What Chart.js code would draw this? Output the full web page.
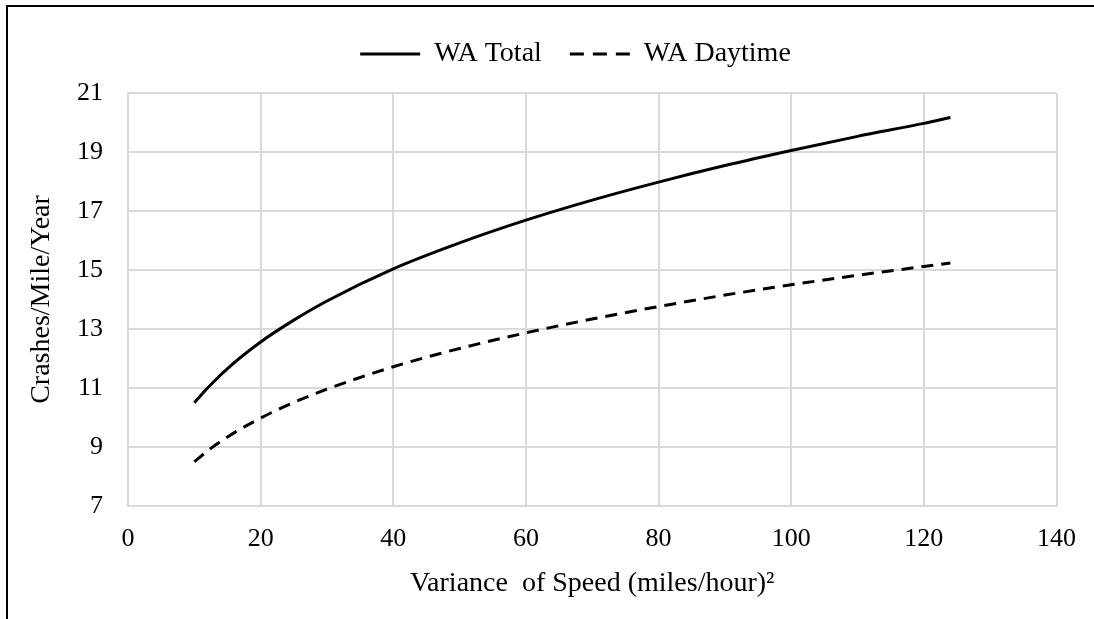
<!DOCTYPE html>
<html>
<head>
<meta charset="utf-8">
<script src="https://cdn.jsdelivr.net/npm/chart.js@4.4.1/dist/chart.umd.min.js"></script>
<style>
  html, body { margin: 0; padding: 0; background: #fff; }
  #wrap { position: relative; width: 1094px; height: 619px; overflow: hidden; }
  #frame { position: absolute; left: 6px; top: 5px; width: 1100px; height: 640px;
           border-top: 2px solid #000; border-left: 2px solid #000; pointer-events: none; }
  canvas { position: absolute; left: 0; top: 0; }
</style>
</head>
<body>
<div id="wrap">
  <canvas id="c" width="1094" height="619"></canvas>
  <div id="frame"></div>
</div>
<script>
// Data
const xValues = [10, 12, 15, 20, 25, 30, 40, 50, 60, 70, 80, 90, 100, 110, 120, 124];
const waTotal = [10.5, 11.0, 11.66, 12.56, 13.3, 13.95, 15.04, 15.92, 16.69, 17.37, 17.98, 18.54, 19.05, 19.53, 19.97, 20.17];
const waDaytime = [8.5, 8.87, 9.34, 9.98, 10.51, 10.96, 11.72, 12.34, 12.87, 13.34, 13.76, 14.15, 14.5, 14.82, 15.12, 15.24];
const seriesNames = ['WA Total', 'WA Daytime'];
const xTitle = 'Variance  of Speed (miles/hour)\u00B2';
const yTitle = 'Crashes/Mile/Year';

const FONT = "'Liberation Serif', 'Times New Roman', serif";
const FS = 26;
const FS_TITLE = 28;
const GRID = '#d9d9d9';

const legendShift = {
  id: 'legendShift',
  afterLayout(chart) {
    const lg = chart.legend;
    if (lg) { lg.left += 47; lg.right += 47; lg.top -= 15; lg.bottom -= 15; }
  }
};

new Chart(document.getElementById('c'), {
  type: 'line',
  data: {
    datasets: [
      {
        label: seriesNames[0],
        data: xValues.map((x, i) => ({ x: x, y: waTotal[i] })),
        borderColor: '#000', backgroundColor: '#000', borderWidth: 3,
        pointRadius: 0, pointHoverRadius: 0, fill: false,
        cubicInterpolationMode: 'monotone'
      },
      {
        label: seriesNames[1],
        data: xValues.map((x, i) => ({ x: x, y: waDaytime[i] })),
        borderColor: '#000', backgroundColor: '#000', borderWidth: 3,
        borderDash: [12, 8], borderCapStyle: 'butt',
        pointRadius: 0, pointHoverRadius: 0, fill: false,
        cubicInterpolationMode: 'monotone'
      }
    ]
  },
  options: {
    responsive: false,
    animation: false,
    devicePixelRatio: 1,
    layout: { padding: { top: 27, right: 37, bottom: 0, left: 0 } },
    plugins: {
      legend: {
        position: 'top',
        labels: {
          usePointStyle: true,
          pointStyle: 'line',
          pointStyleWidth: 60,
          padding: 28,
          color: '#000',
          font: { family: FONT, size: FS_TITLE },
          generateLabels(chart) {
            return chart.data.datasets.map((ds, i) => ({
              text: ds.label,
              fillStyle: ds.borderColor,
              strokeStyle: ds.borderColor,
              lineWidth: ds.borderWidth,
              lineDash: ds.borderDash ? [14, 9] : [],
              lineCap: 'butt',
              pointStyle: 'line',
              fontColor: '#000',
              hidden: false,
              datasetIndex: i
            }));
          }
        }
      },
      tooltip: { enabled: false }
    },
    scales: {
      x: {
        type: 'linear',
        min: 0, max: 140,
        ticks: { stepSize: 20, color: '#000', padding: 18, font: { family: FONT, size: FS } },
        grid: { color: GRID, lineWidth: 2, drawTicks: false },
        border: { color: GRID, width: 2 },
        title: { display: true, text: xTitle, color: '#000', font: { family: FONT, size: FS_TITLE }, padding: { top: 0, bottom: 19 } },
        afterFit(scale) { scale.height = 113; }
      },
      y: {
        type: 'linear',
        min: 7, max: 21,
        ticks: { stepSize: 2, color: '#000', padding: 25, font: { family: FONT, size: FS } },
        grid: { color: GRID, lineWidth: 2, drawTicks: false },
        border: { color: GRID, width: 2 },
        title: { display: true, text: yTitle, color: '#000', font: { family: FONT, size: FS_TITLE }, padding: { top: 25, bottom: 0 } },
        afterFit(scale) { scale.width = 128; }
      }
    }
  },
  plugins: [legendShift]
});
</script>
</body>
</html>
